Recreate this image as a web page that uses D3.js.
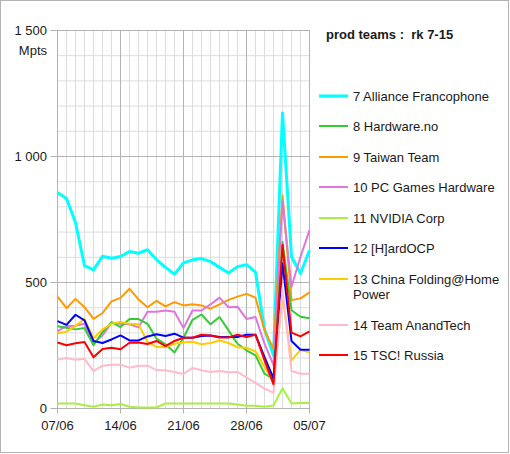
<!DOCTYPE html>
<html>
<head>
<meta charset="utf-8">
<script src="https://cdn.jsdelivr.net/npm/d3@7/dist/d3.min.js"></script>
<style>
  body { margin: 0; background: #fff; }
  text { font-family: "Liberation Sans", Arial, sans-serif; fill: #1a1a1a; }
</style>
</head>
<body>
<svg id="chart" width="510" height="454"></svg>
<script>
// ---- data ----
const startDate = "2020-06-07";
const endDate = "2020-07-05";
const xTickLabels = ["07/06", "14/06", "21/06", "28/06", "05/07"];
const yTicks = [0, 500, 1000, 1500];
const yTickLabels = ["0", "500", "1 000", "1 500"];
const yUnit = "Mpts";
const title = "prod teams :  rk 7-15";

const teams = ["7 Alliance Francophone", "8 Hardware.no", "9 Taiwan Team", "10 PC Games Hardware",
  "11 NVIDIA Corp", "12 [H]ardOCP", "13 China Folding@Home Power", "14 Team AnandTech", "15 TSC! Russia"];
const colors = ["#00ffff", "#33cc33", "#ff9900", "#dd77dd", "#aaee44", "#0000ff", "#ffcc00", "#ffbbcc", "#ff0000"];

const s7  = [857, 833, 738, 567, 550, 604, 596, 603, 623, 616, 630, 591, 560, 533, 578, 590, 595, 583, 560, 538, 563, 571, 541, 315, 210, 1173, 602, 536, 628];
const s8  = [326, 320, 314, 319, 251, 303, 343, 323, 355, 355, 336, 277, 255, 222, 281, 352, 373, 334, 363, 310, 257, 231, 211, 138, 118, 661, 390, 364, 358];
const s9  = [444, 398, 435, 402, 356, 379, 425, 439, 475, 433, 402, 427, 405, 422, 409, 414, 409, 396, 413, 431, 444, 455, 440, 310, 237, 846, 430, 437, 461];
const s10 = [307, 327, 328, 336, 260, 290, 340, 336, 334, 322, 384, 384, 389, 384, 319, 389, 389, 413, 440, 402, 404, 355, 363, 257, 172, 822, 483, 602, 708];
const s11 = [20, 20, 20, 13, 7, 16, 13, 18, 7, 4, 4, 4, 20, 20, 20, 20, 20, 20, 20, 20, 16, 11, 11, 7, 12, 80, 20, 22, 22];
const s12 = [347, 332, 372, 350, 268, 260, 274, 290, 270, 270, 286, 295, 288, 297, 281, 281, 288, 290, 284, 284, 284, 293, 293, 204, 119, 576, 268, 233, 233];
const s13 = [299, 305, 328, 355, 278, 314, 336, 343, 336, 334, 264, 244, 244, 257, 262, 265, 255, 260, 270, 260, 243, 241, 227, 165, 106, 448, 191, 233, 223];
const s14 = [194, 200, 193, 197, 148, 170, 174, 174, 162, 170, 170, 152, 152, 145, 137, 161, 152, 145, 149, 144, 145, 123, 102, 79, 63, 470, 149, 138, 138];
const s15 = [262, 251, 259, 264, 203, 236, 241, 235, 261, 262, 256, 268, 248, 268, 281, 281, 293, 290, 282, 282, 293, 284, 293, 191, 96, 649, 301, 286, 306];
const seriesValues = [s7, s8, s9, s10, s11, s12, s13, s14, s15];

// ---- drawing ----
const svg = d3.select("#chart");
const parse = d3.timeParse("%Y-%m-%d");
const days = d3.timeDay.range(parse(startDate), d3.timeDay.offset(parse(endDate), 1));

const x = d3.scaleTime().domain([parse(startDate), parse(endDate)]).range([57.5, 309.5]);
const y = d3.scaleLinear().domain([0, 1500]).range([408.5, 30.5]);

// outer frame
svg.append("rect").attr("x", 0.5).attr("y", 0.5).attr("width", 508).attr("height", 452)
  .attr("fill", "#fff").attr("stroke", "#b3b3b3");

// minor grid
const g = svg.append("g");
g.selectAll("line.hminor").data(d3.range(0, 1501, 100)).join("line")
  .attr("x1", x.range()[0]).attr("x2", x.range()[1])
  .attr("y1", d => y(d)).attr("y2", d => y(d))
  .attr("stroke", "#dddddd").attr("stroke-width", 1);
g.selectAll("line.vminor").data(days).join("line")
  .attr("x1", d => x(d)).attr("x2", d => x(d))
  .attr("y1", y.range()[0]).attr("y2", y.range()[1])
  .attr("stroke", "#dddddd").attr("stroke-width", 1);

// major grid
const majorDays = days.filter((d, i) => i % 7 === 0);
g.selectAll("line.hmajor").data(yTicks).join("line")
  .attr("x1", x.range()[0] - 7).attr("x2", x.range()[1])
  .attr("y1", d => y(d)).attr("y2", d => y(d))
  .attr("stroke", "#b3b3b3").attr("stroke-width", 1);
g.selectAll("line.vmajor").data(majorDays).join("line")
  .attr("x1", d => x(d)).attr("x2", d => x(d))
  .attr("y1", y.range()[0] + 5).attr("y2", y.range()[1])
  .attr("stroke", "#b3b3b3").attr("stroke-width", 1);

// y labels
svg.selectAll("text.ylab").data(yTicks).join("text")
  .attr("x", 47).attr("y", d => y(d)).attr("dy", "0.35em")
  .attr("text-anchor", "end").attr("font-size", 13)
  .text((d, i) => yTickLabels[i]);
svg.append("text").attr("x", 47).attr("y", 55).attr("text-anchor", "end")
  .attr("font-size", 13).text(yUnit);

// x labels
svg.selectAll("text.xlab").data(majorDays).join("text")
  .attr("x", d => x(d)).attr("y", 430).attr("text-anchor", "middle")
  .attr("font-size", 13).text((d, i) => xTickLabels[i]);

// lines
const line = d3.line().x((d, i) => x(days[i])).y(d => y(d));
const order = [7, 4, 1, 3, 6, 2, 5, 8, 0].reverse();
const drawOrder = [0, 2, 3, 1, 6, 5, 7, 8, 4];
seriesValues.forEach((vals, k) => {});
drawOrder.forEach(k => {
  svg.append("path").datum(seriesValues[k])
    .attr("d", line).attr("fill", "none")
    .attr("stroke", colors[k]).attr("stroke-width", k === 0 ? 3 : 2)
    .attr("stroke-linejoin", "round");
});

// title
svg.append("text").attr("x", 326).attr("y", 39).attr("font-size", 13)
  .attr("font-weight", "bold").style("white-space", "pre").text(title);

// legend
const legendY = [96, 126, 157, 187, 218, 248, 279, 325, 355];
teams.forEach((t, k) => {
  const ly = legendY[k];
  svg.append("line").attr("x1", 319).attr("x2", 348).attr("y1", ly).attr("y2", ly)
    .attr("stroke", colors[k]).attr("stroke-width", k === 0 ? 3 : 2);
  const txt = svg.append("text").attr("x", 353).attr("y", ly).attr("dy", "0.35em")
    .attr("font-size", 13);
  if (t.length > 24) {
    const words = t.split(" ");
    txt.append("tspan").attr("x", 353).text(words.slice(0, words.length - 1).join(" "));
    txt.append("tspan").attr("x", 353).attr("dy", 15).text(words[words.length - 1]);
  } else {
    txt.text(t);
  }
});
</script>
</body>
</html>
